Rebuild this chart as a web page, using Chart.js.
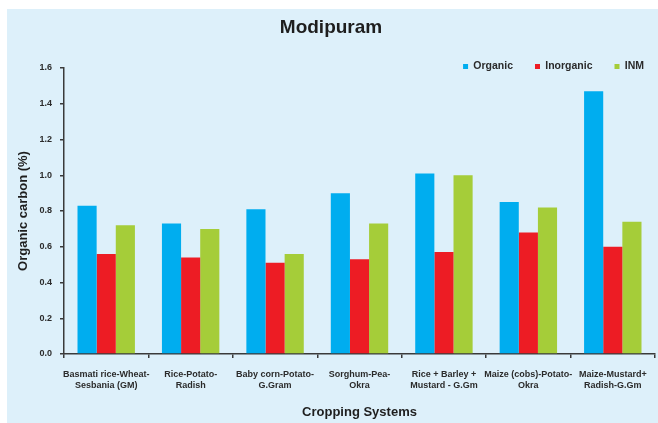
<!DOCTYPE html>
<html>
<head>
<meta charset="utf-8">
<script src="https://cdn.jsdelivr.net/npm/chart.js@4/dist/chart.umd.min.js"></script>
<style>
    html, body { margin: 0; padding: 0; background: #fff; }
    #panel {
        position: absolute;
        left: 7px;
        top: 9px;
        width: 651px;
        height: 414px;
        background: #ddf0fa;
    }
</style>
</head>
<body>
<div id="panel">
    <canvas id="carbonChart" width="651" height="414"></canvas>
</div>

<script>
/* ============================================================
   DATA
   ============================================================ */
const categories = [
    ["Basmati rice-Wheat-", "Sesbania (GM)"],
    ["Rice-Potato-", "Radish"],
    ["Baby corn-Potato-", "G.Gram"],
    ["Sorghum-Pea-", "Okra"],
    ["Rice + Barley +", "Mustard - G.Gm"],
    ["Maize (cobs)-Potato-", "Okra"],
    ["Maize-Mustard+", "Radish-G.Gm"]
];

const organic   = [0.83, 0.73, 0.81, 0.90, 1.01, 0.85, 1.47];
const inorganic = [0.56, 0.54, 0.51, 0.53, 0.57, 0.68, 0.60];
const inm       = [0.72, 0.70, 0.56, 0.73, 1.00, 0.82, 0.74];

const seriesNames  = ["Organic", "Inorganic", "INM"];
const seriesColors = ["#00adef", "#ed1c24", "#a5cd39"];

const yMax = 1.6;
const yStep = 0.2;

/* ============================================================
   CHART
   ============================================================ */
const axisColor = "#3a3a3a";
const textColor = "#2b2b2b";

// legend row hangs into the plot area and sits further right;
// widen its box so the clip region doesn't cut the labels
const nudgeLegend = {
    id: "nudgeLegend",
    afterLayout(chart) {
        const lg = chart.legend;
        if (!lg) return;
        lg.left += 11;
        lg.right += 11;
        lg.bottom += 20;
        lg.height += 20;
    }
};

const ctx = document.getElementById("carbonChart");

new Chart(ctx, {
    type: "bar",
    data: {
        labels: categories,
        datasets: [organic, inorganic, inm].map((values, i) => ({
            label: seriesNames[i],
            data: values,
            backgroundColor: seriesColors[i],
            borderWidth: 0,
            categoryPercentage: 0.68,
            barPercentage: 1.0
        }))
    },
    options: {
        responsive: false,
        animation: false,
        layout: { padding: { left: 0, right: 3, top: 0, bottom: 0 } },
        plugins: {
            title: {
                display: true,
                text: "Modipuram",
                color: "#1e1e1e",
                font: { family: "Liberation Sans, Arial, sans-serif", size: 19, weight: "bold" },
                padding: { top: 7.5, bottom: 0 }
            },
            legend: {
                display: true,
                position: "top",
                align: "end",
                maxHeight: 28.7,
                labels: {
                    boxWidth: 5,
                    boxHeight: 5,
                    padding: 22,
                    color: textColor,
                    font: { family: "Liberation Sans, Arial, sans-serif", size: 10.5, weight: "bold" }
                }
            },
            tooltip: { enabled: false }
        },
        scales: {
            x: {
                grid: {
                    drawOnChartArea: false,
                    drawTicks: true,
                    tickLength: 4,
                    color: axisColor,
                    lineWidth: 1.5
                },
                border: { display: true, color: axisColor, width: 1.5 },
                ticks: {
                    color: textColor,
                    padding: 11,
                    maxRotation: 0,
                    autoSkip: false,
                    font: { family: "Liberation Sans, Arial, sans-serif", size: 9, weight: "bold", lineHeight: 1.22 }
                },
                title: {
                    display: true,
                    text: "Cropping Systems",
                    color: "#1e1e1e",
                    font: { family: "Liberation Sans, Arial, sans-serif", size: 13, weight: "bold" },
                    padding: { top: 0, bottom: 3 }
                },
                afterFit(scale) { scale.height = 69; }
            },
            y: {
                min: 0,
                max: yMax,
                grid: {
                    drawOnChartArea: false,
                    drawTicks: true,
                    tickLength: 4,
                    color: axisColor,
                    lineWidth: 1.5
                },
                border: { display: true, color: axisColor, width: 1.5 },
                ticks: {
                    stepSize: yStep,
                    color: textColor,
                    padding: 8,
                    font: { family: "Liberation Sans, Arial, sans-serif", size: 9, weight: "bold" },
                    callback: v => Number(v).toFixed(1)
                },
                title: {
                    display: true,
                    text: "Organic carbon (%)",
                    color: "#1e1e1e",
                    font: { family: "Liberation Sans, Arial, sans-serif", size: 13, weight: "bold" },
                    padding: { top: 9, bottom: 0 }
                },
                afterFit(scale) { scale.width = 57; }
            }
        }
    },
    plugins: [nudgeLegend]
});
</script>
</body>
</html>
